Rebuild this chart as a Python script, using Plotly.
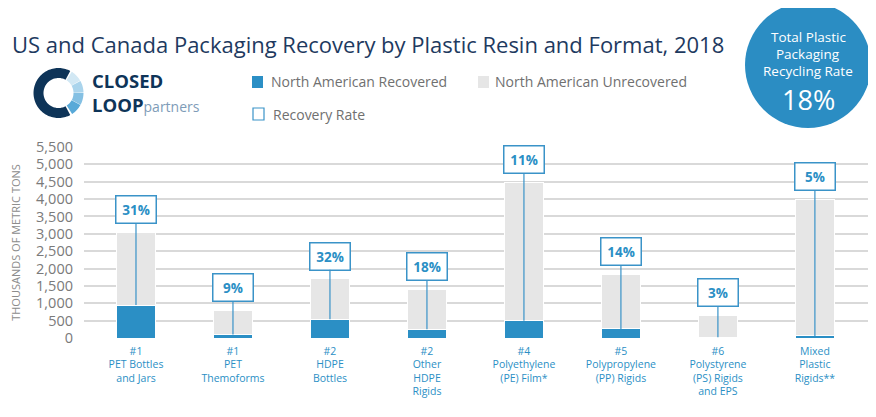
import math
import plotly.graph_objects as go

# ---------------- data ----------------
categories = [
    "#1<br>PET Bottles<br>and Jars",
    "#1<br>PET<br>Themoforms",
    "#2<br>HDPE<br>Bottles",
    "#2<br>Other<br>HDPE<br>Rigids",
    "#4<br>Polyethylene<br>(PE) Film*",
    "#5<br>Polypropylene<br>(PP) Rigids",
    "#6<br>Polystyrene<br>(PS) Rigids<br>and EPS",
    "Mixed<br>Plastic<br>Rigids**",
]
recovered = [950, 100, 540, 250, 500, 260, 20, 60]
unrecovered = [2100, 690, 1160, 1140, 3970, 1580, 620, 3940]
recovery_rate = [31, 9, 32, 18, 11, 14, 3, 5]
y_tick_values = [0, 500, 1000, 1500, 2000, 2500, 3000, 3500, 4000, 4500, 5000, 5500]
total_rate = 18

# ---------------- styling ----------------
FONT = "Open Sans"
BLUE = "#2B8FC5"
BOX_BLUE = "#3A93C8"
GREY_BAR = "#E6E6E6"
NAVY = "#0E3458"
TITLE_C = "#1E3A5F"
TEXT_GREY = "#707070"

# the page adds an 8px body margin; work in reference-picture pixels and shift
OFF = 8
W, H = 876 - OFF, 417 - OFF
L, T = 84 - OFF, 147 - OFF
PLOT_BOTTOM = 338 - OFF
PLOT_RIGHT = 876 - OFF
R, B = W - PLOT_RIGHT, H - PLOT_BOTTOM
PW, PH = W - L - R, H - T - B


def px(x):
    return (x - OFF - L) / PW


def py(y):
    return (PLOT_BOTTOM - (y - OFF)) / PH


fig = go.Figure()
fig.add_trace(go.Bar(
    x=categories, y=recovered, name="North American Recovered",
    marker=dict(color=BLUE, line=dict(color="white", width=1)),
    hovertemplate="%{y:,}<extra></extra>",
))
fig.add_trace(go.Bar(
    x=categories, y=unrecovered, name="North American Unrecovered",
    marker=dict(color=GREY_BAR, line=dict(color="white", width=1)),
    hovertemplate="%{y:,}<extra></extra>",
))

# recovery-rate callouts
for i, (r, u, rate) in enumerate(zip(recovered, unrecovered, recovery_rate)):
    total = r + u
    fig.add_annotation(
        x=i, y=r, xref="x", yref="y", ax=i, ay=total + 660, axref="x", ayref="y",
        text=f"<b>{rate}%</b>", showarrow=True, arrowhead=0, arrowwidth=1.2,
        arrowcolor=BOX_BLUE, standoff=0, startstandoff=0,
        bordercolor=BOX_BLUE, borderwidth=1.5, borderpad=1, bgcolor="white",
        width=37, height=24, font=dict(family=FONT, size=13.5, color=BLUE),
    )

shapes = []
annos = []

# legend (manual)
shapes.append(dict(type="rect", xref="paper", yref="paper", x0=px(252), x1=px(263), y0=py(88), y1=py(76),
                   fillcolor=BLUE, line=dict(width=0)))
shapes.append(dict(type="rect", xref="paper", yref="paper", x0=px(478), x1=px(489), y0=py(88), y1=py(76),
                   fillcolor=GREY_BAR, line=dict(width=0)))
shapes.append(dict(type="rect", xref="paper", yref="paper", x0=px(253), x1=px(264), y0=py(120), y1=py(108),
                   fillcolor="white", line=dict(width=1.2, color=BOX_BLUE)))
for text, x, y in [("North American Recovered", 269, 82), ("North American Unrecovered", 493, 82),
                   ("Recovery Rate", 271, 114)]:
    annos.append(dict(text=text, xref="paper", yref="paper", x=px(x), y=py(y), xanchor="left",
                      yanchor="middle", showarrow=False, font=dict(family=FONT, size=14, color=TEXT_GREY)))

# total-rate circle
shapes.append(dict(type="circle", xref="paper", yref="paper", x0=px(745), x1=px(871), y0=py(128), y1=py(2),
                   fillcolor="#2B8DC3", line=dict(width=0)))
for text, y, size in [("Total Plastic", 37, 13.5), ("Packaging", 54, 13.5), ("Recycling Rate", 71, 13.5),
                      (f"{total_rate}%", 99, 27)]:
    annos.append(dict(text=text, xref="paper", yref="paper", x=px(808), y=py(y), xanchor="center",
                      yanchor="middle", showarrow=False, font=dict(family=FONT, size=size, color="white")))


# logo ring
def sector(cx, cy, r_out, r_in, a0, a1, n=40):
    pts = []
    for k in range(n + 1):
        a = math.radians(a0 + (a1 - a0) * k / n)
        pts.append((cx + r_out * math.cos(a), cy - r_out * math.sin(a)))
    for k in range(n + 1):
        a = math.radians(a1 + (a0 - a1) * k / n)
        pts.append((cx + r_in * math.cos(a), cy - r_in * math.sin(a)))
    return "M " + " L ".join(f"{px(x):.5f},{py(y):.5f}" for x, y in pts) + " Z"


CX, CY, RO, RI = 58.5, 93, 25, 15
shapes.append(dict(type="path", xref="paper", yref="paper", path=sector(CX, CY, RO, RI, 62, 298, 80),
                   fillcolor=NAVY, line=dict(width=0)))
seg_colors = ["#D2E8F4", "#AAD4EC", "#84C0E3", "#58A9D8"]
start = 58
for k, c in enumerate(seg_colors):
    a0 = start - k * 29
    shapes.append(dict(type="path", xref="paper", yref="paper", path=sector(CX, CY, RO, RI, a0, a0 - 28, 12),
                       fillcolor=c, line=dict(width=0)))
annos.append(dict(text="<b>CLOSED</b><br><b>LOOP</b><span style='font-size:14px;color:#7E9CB8'>partners</span>",
                  xref="paper", yref="paper", x=px(90), y=py(92), xanchor="left", align="left",
                  yanchor="middle", showarrow=False, font=dict(family=FONT, size=18.5, color=NAVY)))

fig.update_layout(
    width=W, height=H,
    margin=dict(l=L, r=R, t=T, b=B, autoexpand=False),
    paper_bgcolor="white", plot_bgcolor="white",
    barmode="stack", bargap=0.59, showlegend=False,
    font=dict(family=FONT),
    title=dict(text="US and Canada Packaging Recovery by Plastic Resin and Format, 2018",
               x=(12 - OFF) / W, xanchor="left", xref="container",
               y=1 - (45 - OFF) / H, yanchor="middle", yref="container",
               font=dict(family=FONT, size=22, color=TITLE_C)),
    xaxis=dict(range=[-0.536, 7.63], showgrid=False, showline=False, zeroline=False, ticks="",
               ticklabelstandoff=5,
               tickfont=dict(family=FONT, size=10.5, color=BLUE), automargin=False, fixedrange=True),
    yaxis=dict(range=[0, 5500], tickvals=y_tick_values, tickformat=",", showgrid=True,
               gridcolor="#D9D9D9", gridwidth=1.5, zeroline=False, showline=False, ticks="",
               ticklabelstandoff=10, automargin=False, fixedrange=True,
               tickfont=dict(family=FONT, size=14.5, color="#7A7A7A"),
               title=dict(text="THOUSANDS OF METRIC TONS", standoff=13,
                          font=dict(family=FONT, size=11, color="#8C8C8C"))),
    shapes=shapes, annotations=list(fig.layout.annotations) + annos,
)

fig.write_html("out.html")
